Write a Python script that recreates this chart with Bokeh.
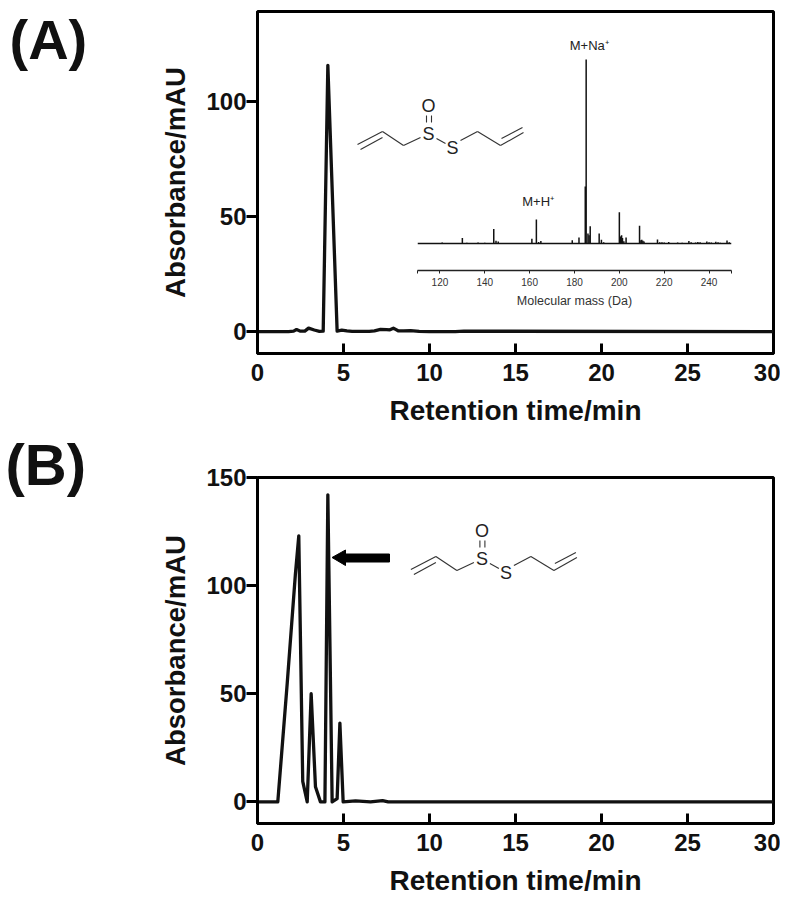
from bokeh.plotting import figure
from bokeh.models import Range1d, Label, FixedTicker, Span
from bokeh.embed import file_html
from bokeh.resources import INLINE

FONT = "Liberation Sans"

# Panel A chromatogram
a_time = [0, 1.8, 2.1, 2.27, 2.5, 2.75, 2.97, 3.3, 3.6, 3.82, 4.09, 4.63, 4.9, 5.2, 5.5, 6.0, 6.5, 6.8, 7.15, 7.5, 7.7, 7.9, 8.2, 8.5, 8.9, 9.4, 10, 11.5, 12, 30]
a_abs = [0, 0, 0.2, 0.9, 0.2, 0.2, 1.5, 0.7, 0.1, 0.2, 115.6, 0.2, 0.6, 0.3, 0.1, 0.1, 0.1, 0.3, 1.0, 0.9, 0.8, 1.5, 0.3, 0.3, 0.4, 0.1, 0, 0, 0.2, 0]

# Panel B chromatogram
b_time = [0, 1.18, 1.73, 2.2, 2.4, 2.63, 2.89, 3.12, 3.37, 3.66, 3.92, 4.09, 4.34, 4.63, 4.79, 4.98, 5.7, 6.57, 7.27, 7.6, 30]
b_abs = [0, 0, 55, 105, 123, 9.5, 0, 50, 7, 0, 0, 142, 0, 1.5, 36.4, 0, 0.5, 0, 0.6, 0, 0]

# Inset mass spectrum
ms_mass = [121, 130, 132, 137, 140, 144, 145, 146, 161, 163, 164, 165, 179, 182, 184.8, 185.2, 186, 186.5, 187, 191, 192, 193, 200, 200.5, 200.8, 201, 201.4, 202, 203, 209, 209.6, 210, 210.5, 211, 217, 218, 219, 220, 222, 226, 228, 231, 232, 234, 235, 236, 239, 240, 241, 243, 244, 245, 248, 249]
ms_int = [0.5, 2.9, 0.4, 0.5, 0.4, 7.8, 1.5, 1.0, 2.5, 13, 0.8, 1.3, 1.8, 3.3, 31, 100, 5.4, 4.5, 9.4, 5.4, 2.0, 0.7, 17, 3.5, 4.0, 4.5, 3.0, 1.2, 3.3, 9.6, 1.8, 2.0, 1.5, 1.0, 2.2, 0.7, 0.6, 0.5, 0.8, 0.5, 0.4, 1.3, 0.6, 0.5, 0.8, 0.6, 1.0, 0.6, 0.5, 0.9, 0.7, 0.4, 1.6, 0.6]

x_ticks = [0, 5, 10, 15, 20, 25, 30]
a_y_ticks = [0, 50, 100]
b_y_ticks = [0, 50, 100, 150]
ms_ticks = [110, 120, 140, 160, 180, 200, 220, 240, 250]
ms_unlabelled = {110: "", 250: ""}

# Allicin skeleton sketch, page pixels of panel A
bonds = [
    (357, 144, 382, 131), (360, 149, 382, 137), (382, 131, 403, 145), (403, 145, 420, 137),
    (436, 138, 445, 143), (460, 140, 477, 131), (477, 131, 500, 145), (500, 145, 523, 132),
    (501, 138, 522, 127), (426, 115, 426, 122), (431, 115, 431, 122),
]
atoms = [("O", 428, 105), ("S", 428, 133), ("S", 452, 147)]


def panel(top_page, height, border_top, frame_bottom, y_start, y_end, y_ticks):
    p = figure(width=780, height=height, x_range=Range1d(0, 30), y_range=Range1d(y_start, y_end),
               output_backend="svg", toolbar_location=None, min_border_left=257, min_border_right=7,
               min_border_top=border_top, min_border_bottom=top_page + height - frame_bottom,
               background_fill_color="white", border_fill_color="white",
               outline_line_color="black", outline_line_width=3)
    p.grid.visible = False
    for ax, ticks in ((p.xaxis[0], x_ticks), (p.yaxis[0], y_ticks)):
        ax.ticker = FixedTicker(ticks=ticks)
        ax.axis_line_width = 3
        ax.major_tick_line_width = 3
        ax.minor_tick_line_color = None
        ax.major_label_text_font = FONT
        ax.major_label_text_font_style = "bold"
        ax.major_label_text_font_size = "24px"
        ax.major_label_text_color = "#111111"
        ax.axis_label_text_font = FONT
        ax.axis_label_text_font_style = "bold"
        ax.axis_label_text_color = "#111111"
    p.xaxis.major_tick_in = 10
    p.xaxis.major_tick_out = 0
    p.xaxis.major_label_standoff = 10
    p.yaxis.major_tick_in = 0
    p.yaxis.major_tick_out = 11
    p.yaxis.major_label_standoff = 0
    p.xaxis.axis_label = "Retention time/min"
    p.xaxis.axis_label_text_font_size = "28px"
    p.xaxis.axis_label_standoff = 11
    p.yaxis.axis_label = "Absorbance/mAU"
    p.yaxis.axis_label_text_font_size = "27.5px"
    p.yaxis.axis_label_standoff = 12
    p.styles = {"position": "absolute", "left": "0px", "top": f"{top_page}px"}
    return p


# Panel A
p1 = panel(0, 465, 11, 353, -9.5, 139, a_y_ticks)
p1.line(a_time, a_abs, line_color="#111111", line_width=3.3, line_join="round")

# Panel B
p2 = panel(465, 433, 12, 823, -10, 150, b_y_ticks)
p2.line(b_time, b_abs, line_color="#111111", line_width=3.3, line_join="round")

# Inset spectrum, laid over panel A
ms = figure(width=354, height=285, x_range=Range1d(110, 250), y_range=Range1d(-14.7, 114.1),
            output_backend="svg", toolbar_location=None, min_border_left=20, min_border_right=20,
            min_border_top=3, min_border_bottom=45, outline_line_color=None,
            background_fill_alpha=0, border_fill_alpha=0)
ms.grid.visible = False
ms.yaxis.visible = False
ms.segment(ms_mass, [0] * len(ms_mass), ms_mass, ms_int, line_color="#111111", line_width=1.5)
ms.add_layout(Span(location=0, dimension="width", line_color="#111111", line_width=1.5))
ax = ms.xaxis[0]
ax.ticker = FixedTicker(ticks=ms_ticks)
ax.major_label_overrides = ms_unlabelled
ax.axis_line_width = 1.5
ax.axis_line_color = "#222222"
ax.major_tick_line_color = "#222222"
ax.minor_tick_line_color = None
ax.major_tick_in = 0
ax.major_tick_out = 3
ax.major_label_standoff = 4
ax.major_label_text_font = FONT
ax.major_label_text_font_size = "10px"
ax.major_label_text_color = "#333333"
ax.axis_label = "Molecular mass (Da)"
ax.axis_label_text_font = FONT
ax.axis_label_text_font_style = "normal"
ax.axis_label_text_font_size = "12.5px"
ax.axis_label_text_color = "#333333"
ax.axis_label_standoff = 5
ms.add_layout(Label(x=186.6, y=100, y_offset=6, text="M+Na⁺", text_align="center", text_font=FONT,
                    text_font_size="13px", text_color="#222222"))
ms.add_layout(Label(x=163.8, y=13, y_offset=11, text="M+H⁺", text_align="center", text_font=FONT,
                    text_font_size="13px", text_color="#222222"))
ms.styles = {"position": "absolute", "left": f"{417.3 - 20}px", "top": "30px"}

# Page-pixel overlay for the panel letters, structures and arrow
ov = figure(width=795, height=890, x_range=Range1d(0, 795), y_range=Range1d(890, 0),
            output_backend="svg", toolbar_location=None, min_border=0, outline_line_color=None,
            background_fill_alpha=0, border_fill_alpha=0, x_axis_location=None, y_axis_location=None)
ov.grid.visible = False
ov.styles = {"position": "absolute", "left": "0px", "top": "0px"}


def note(text, x, y, size, style="normal", align="center", color="#111111"):
    ov.add_layout(Label(x=x, y=y, text=text, text_font=FONT, text_font_size=f"{size}px", text_font_style=style,
                        text_align=align, text_baseline="middle", text_color=color))


def molecule(dx, dy):
    ov.segment([b[0] + dx for b in bonds], [b[1] + dy for b in bonds],
               [b[2] + dx for b in bonds], [b[3] + dy for b in bonds],
               line_color="#333333", line_width=1.1)
    for t, x, y in atoms:
        note(t, x + dx, y + dy, 18, color="#222222")


molecule(0, 0)
molecule(53.4, 425)
ov.patch([331.5, 345, 345, 389, 389, 345, 345], [557, 549.5, 553.5, 553.5, 561.5, 561.5, 565], color="black")
note("(A)", 9, 38.5, 56, "bold", align="left")
note("(B)", 5, 464, 58, "bold", align="left")

open("out.html", "w").write(file_html([p1, p2, ms, ov], INLINE))
